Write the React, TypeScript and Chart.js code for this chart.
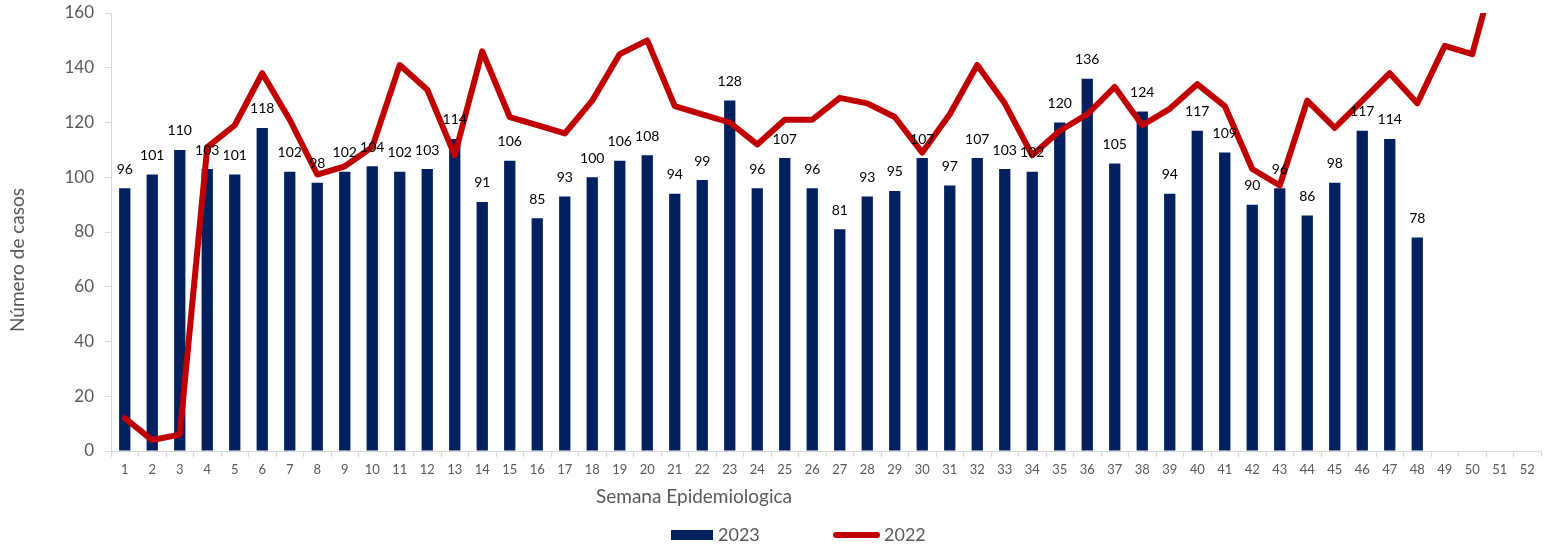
import React, { useEffect, useRef } from "react";
import { Chart, registerables } from "chart.js";

Chart.register(...registerables);

const weeks: string[] = Array.from({ length: 52 }, (_, i) => String(i + 1));

const cases2023: (number | null)[] = [
  96, 101, 110, 103, 101, 118, 102, 98, 102, 104, 102, 103, 114, 91, 106, 85,
  93, 100, 106, 108, 94, 99, 128, 96, 107, 96, 81, 93, 95, 107, 97, 107, 103,
  102, 120, 136, 105, 124, 94, 117, 109, 90, 96, 86, 98, 117, 114, 78,
  null, null, null, null,
];

const cases2022: (number | null)[] = [
  12, 4, 6, 111, 119, 138, 121, 101, 104, 111, 141, 132, 108, 146, 122, 119,
  116, 128, 145, 150, 126, 123, 120, 112, 121, 121, 129, 127, 122, 109, 123,
  141, 127, 108, 117, 123, 133, 119, 125, 134, 126, 103, 97, 128, 118, 128,
  138, 127, 148, 145, 182, null,
];

const yTicks: number[] = [0, 20, 40, 60, 80, 100, 120, 140, 160];

const BAR_COLOR = "#002060";
const LINE_COLOR = "#C00000";
const GRAY = "#595959";
const FONT = "Lato, 'Open Sans', sans-serif";

const labelPlugin = {
  id: "barLabels",
  afterDatasetsDraw(chart: any) {
    const ctx = chart.ctx;
    const meta = chart.getDatasetMeta(1);
    ctx.save();
    ctx.font = `14px ${FONT}`;
    ctx.fillStyle = "#000000";
    ctx.textAlign = "center";
    ctx.textBaseline = "middle";
    meta.data.forEach((el: any, i: number) => {
      const v = cases2023[i];
      if (v == null) return;
      ctx.fillText(String(v), el.x, el.y - 19);
    });
    ctx.restore();
  },
};

const decorPlugin = {
  id: "decor",
  afterDraw(chart: any) {
    const ctx = chart.ctx;
    const y = 535;
    ctx.save();
    // legend
    ctx.fillStyle = BAR_COLOR;
    ctx.fillRect(671, y - 5, 42, 10);
    ctx.strokeStyle = LINE_COLOR;
    ctx.lineWidth = 6;
    ctx.lineCap = "round";
    ctx.beginPath();
    ctx.moveTo(836, y);
    ctx.lineTo(877, y);
    ctx.stroke();
    ctx.font = `18px ${FONT}`;
    ctx.fillStyle = GRAY;
    ctx.textAlign = "left";
    ctx.textBaseline = "middle";
    ctx.fillText("2023", 718, y);
    ctx.fillText("2022", 884, y);
    // axis titles
    ctx.textAlign = "center";
    ctx.font = `19px ${FONT}`;
    ctx.fillText("Semana Epidemiologica", 694, 497);
    ctx.translate(18, 260);
    ctx.rotate(-Math.PI / 2);
    ctx.fillText("Número de casos", 0, 0);
    ctx.restore();
  },
};

export default function App() {
  const ref = useRef<HTMLCanvasElement | null>(null);

  useEffect(() => {
    if (!ref.current) return;
    const chart = new Chart(ref.current, {
      type: "bar",
      data: {
        labels: weeks,
        datasets: [
          {
            type: "line",
            label: "2022",
            data: cases2022,
            borderColor: LINE_COLOR,
            backgroundColor: LINE_COLOR,
            borderWidth: 6,
            pointRadius: 0,
            tension: 0,
            borderJoinStyle: "round",
            borderCapStyle: "round",
            order: 0,
            clip: 0,
          } as any,
          {
            type: "bar",
            label: "2023",
            data: cases2023,
            backgroundColor: BAR_COLOR,
            categoryPercentage: 1,
            barPercentage: 0.41,
            order: 1,
          },
        ],
      },
      options: {
        animation: false,
        responsive: true,
        maintainAspectRatio: false,
        layout: { padding: { top: 13, right: 10, left: 0, bottom: 0 } },
        plugins: {
          legend: { display: false },
          tooltip: { enabled: false },
        },
        scales: {
          x: {
            grid: {
              offset: true,
              drawOnChartArea: false,
              tickLength: 6,
              color: "#D9D9D9",
            },
            border: { color: "#D9D9D9", width: 1 },
            ticks: {
              autoSkip: false,
              maxRotation: 0,
              color: GRAY,
              font: { family: FONT, size: 13 },
              padding: 5,
            },
            afterFit: (s: any) => {
              s.height = 98;
              s.paddingLeft = 0;
              s.paddingRight = 0;
            },
          },
          y: {
            min: 0,
            max: 160,
            afterBuildTicks: (s: any) => {
              s.ticks = yTicks.map((v) => ({ value: v }));
            },
            grid: {
              drawOnChartArea: false,
              tickLength: 6,
              color: "#D9D9D9",
            },
            border: { color: "#D9D9D9", width: 1 },
            ticks: {
              color: GRAY,
              font: { family: FONT, size: 17 },
              padding: 11,
            },
            afterFit: (s: any) => {
              s.width = 111;
              s.paddingTop = 0;
              s.paddingBottom = 0;
            },
          },
        },
      },
      plugins: [labelPlugin, decorPlugin],
    });
    return () => chart.destroy();
  }, []);

  return (
    <div
      style={{
        position: "fixed",
        left: 0,
        top: 0,
        width: 1551,
        height: 549,
        background: "#ffffff",
      }}
    >
      <canvas ref={ref} />
    </div>
  );
}
